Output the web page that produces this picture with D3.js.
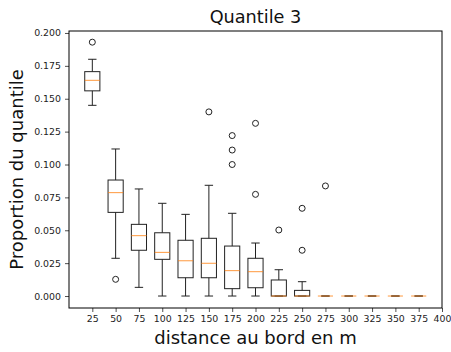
<!DOCTYPE html>
<html><head><meta charset="utf-8">
<script src="https://cdn.jsdelivr.net/npm/d3@7"></script>
<style>body{margin:0;background:#fff;} svg{display:block;font-family:"DejaVu Sans",sans-serif;}</style>
</head><body>
<svg id="c" width="451" height="352"></svg>
<script>
const categories = ["25","50","75","100","125","150","175","200","225","250","275","300","325","350","375"];
const tickLabels = ["25","50","75","100","125","150","175","200","225","250","275","300","325","350","375","400"];
const whiskerLow  = [0.145, 0.0287, 0.0066, 0, 0, 0, 0, 0, 0, 0, 0, 0, 0, 0, 0];
const q1          = [0.156, 0.0636, 0.0348, 0.0279, 0.0139, 0.0139, 0.0056, 0.0063, 0, 0, 0, 0, 0, 0, 0];
const medians     = [0.164, 0.0786, 0.0459, 0.0332, 0.0268, 0.0249, 0.0193, 0.0185, 0, 0, 0, 0, 0, 0, 0];
const q3          = [0.1706, 0.0882, 0.0545, 0.0481, 0.0424, 0.0439, 0.038, 0.0287, 0.0122, 0.0043, 0, 0, 0, 0, 0];
const whiskerHigh = [0.180, 0.1118, 0.0814, 0.0705, 0.0621, 0.0842, 0.0629, 0.0403, 0.020, 0.0109, 0, 0, 0, 0, 0];
const outliers    = [[0.193], [0.0127], [], [], [], [0.140], [0.122, 0.111, 0.100], [0.1313, 0.0773], [0.0502], [0.0667, 0.0348], [0.0837], [], [], [], []];
const yTicks = [0, 0.025, 0.05, 0.075, 0.1, 0.125, 0.15, 0.175, 0.2];

const svg = d3.select("#c");
const L = 69, R = 442, T = 31, B = 308;
const x = d3.scaleLinear().domain([0, 16]).range([L, R]);
const y = d3.scaleLinear().domain([-0.0091, 0.2015]).range([B, T]);
const boxW = 0.65, capW = 0.36;

// axes
const xAxis = d3.axisBottom(x).tickValues(d3.range(1, 17)).tickFormat((d,i)=>tickLabels[i]).tickSize(4).tickPadding(3.5);
const yAxis = d3.axisLeft(y).tickValues(yTicks).tickFormat(d3.format(".3f")).tickSize(4).tickPadding(4);
const gx = svg.append("g").attr("transform", `translate(0,${B})`).call(xAxis);
const gy = svg.append("g").attr("transform", `translate(${L},0)`).call(yAxis);
[gx, gy].forEach(g => {
  g.select(".domain").remove();
  g.selectAll("text").attr("font-size", 9.4).attr("fill", "#222").attr("font-family", "DejaVu Sans");
  g.selectAll("line").attr("stroke", "#222").attr("stroke-width", 0.8);
});

svg.append("rect").attr("x", L).attr("y", T).attr("width", R - L).attr("height", B - T)
  .attr("fill", "none").attr("stroke", "#000").attr("stroke-width", 1);

const data = categories.map((c, i) => ({pos: i + 1, lo: whiskerLow[i], q1: q1[i], med: medians[i], q3: q3[i], hi: whiskerHigh[i], out: outliers[i]}));
const g = svg.append("g");
data.forEach(d => {
  const gg = g.append("g").attr("stroke-width", 1).attr("fill", "none");
  gg.append("line").attr("x1", x(d.pos)).attr("x2", x(d.pos)).attr("y1", y(d.hi)).attr("y2", y(d.q3)).attr("stroke", "#222");
  gg.append("line").attr("x1", x(d.pos)).attr("x2", x(d.pos)).attr("y1", y(d.lo)).attr("y2", y(d.q1)).attr("stroke", "#222");
  gg.append("line").attr("x1", x(d.pos - capW/2)).attr("x2", x(d.pos + capW/2)).attr("y1", y(d.hi)).attr("y2", y(d.hi)).attr("stroke", "#222");
  gg.append("line").attr("x1", x(d.pos - capW/2)).attr("x2", x(d.pos + capW/2)).attr("y1", y(d.lo)).attr("y2", y(d.lo)).attr("stroke", "#222");
  gg.append("rect").attr("x", x(d.pos - boxW/2)).attr("width", x(d.pos + boxW/2) - x(d.pos - boxW/2))
    .attr("y", y(d.q3)).attr("height", y(d.q1) - y(d.q3)).attr("stroke", "#222");
  gg.append("line").attr("x1", x(d.pos - boxW/2)).attr("x2", x(d.pos + boxW/2)).attr("y1", y(d.med)).attr("y2", y(d.med)).attr("stroke", "#ff7f0e").attr("stroke-opacity", 0.8);
  d.out.forEach(v => {
    gg.append("circle").attr("cx", x(d.pos)).attr("cy", y(v)).attr("r", 3).attr("stroke", "#222").attr("fill", "none");
  });
});

svg.append("text").attr("x", (L + R) / 2).attr("y", 23).attr("text-anchor", "middle")
  .attr("font-size", 17.7).attr("fill", "#111").text("Quantile 3");
svg.append("text").attr("transform", `translate(23,${(T + B) / 2}) rotate(-90)`).attr("text-anchor", "middle")
  .attr("font-size", 18).attr("fill", "#111").text("Proportion du quantile");
svg.append("text").attr("x", (L + R) / 2).attr("y", 344).attr("text-anchor", "middle")
  .attr("font-size", 18).attr("fill", "#111").text("distance au bord en m");
</script>
</body></html>
